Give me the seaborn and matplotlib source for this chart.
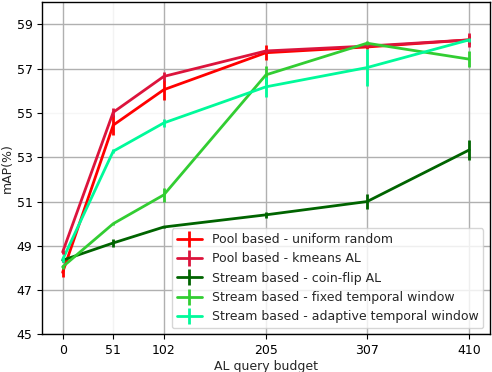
import matplotlib
matplotlib.use("Agg")
from matplotlib import pyplot as plt
from matplotlib.lines import Line2D
import numpy as np
import pandas as pd
import seaborn as sns

budget = [0, 51, 102, 205, 307, 410]

methods = [
    "Pool based - uniform random",
    "Pool based - kmeans AL",
    "Stream based - coin-flip AL",
    "Stream based - fixed temporal window",
    "Stream based - adaptive temporal window",
]
colors = ["#ff0000", "#dc143c", "#006400", "#32cd32", "#00fa9a"]

uniform_map = [47.8, 54.45, 56.05, 57.72, 57.98, 58.3]
kmeans_map = [48.72, 55.03, 56.65, 57.8, 58.02, 58.3]
coinflip_map = [48.35, 49.13, 49.85, 50.4, 51.0, 53.33]
fixed_map = [48.05, 50.0, 51.3, 56.72, 58.15, 57.43]
adaptive_map = [48.38, 53.27, 54.55, 56.18, 57.05, 58.3]

uniform_err = [0.2, 0.45, 0.45, 0.35, 0.1, 0.2]
kmeans_err = [0.1, 0.2, 0.2, 0.1, 0.1, 0.3]
coinflip_err = [0.1, 0.2, 0.05, 0.15, 0.35, 0.45]
fixed_err = [0.1, 0.05, 0.3, 0.4, 0.1, 0.35]
adaptive_err = [0.1, 0.1, 0.2, 0.45, 0.85, 0.1]

all_means = [uniform_map, kmeans_map, coinflip_map, fixed_map, adaptive_map]
all_errs = [uniform_err, kmeans_err, coinflip_err, fixed_err, adaptive_err]

# long table for seaborn
rows = []
for name, vals in zip(methods, all_means):
    for b, v in zip(budget, vals):
        rows.append({"budget": b, "mAP": v, "method": name})
df = pd.DataFrame(rows)

sns.set_style("white")
plt.rcParams["font.family"] = ["DejaVu Sans"]

fig = plt.figure(figsize=(4.92, 3.72), dpi=100)
ax = fig.add_axes([0.086, 0.101, 0.909, 0.893])

# grid (the 51 / 55 lines are barely visible in the original)
for x in budget:
    ax.axvline(x, color="#b0b0b0", lw=1, alpha=0.15 if x == 51 else 1, zorder=0)
for y in range(45, 61, 2):
    ax.axhline(y, color="#b0b0b0", lw=1, alpha=0.1 if y == 55 else 1, zorder=0)

sns.lineplot(data=df, x="budget", y="mAP", hue="method", hue_order=methods,
             palette=colors, linewidth=2, legend=False, ax=ax, zorder=3)

for vals, errs, c in zip(all_means, all_errs, colors):
    ax.errorbar(budget, vals, yerr=errs, fmt="none", ecolor=c, elinewidth=2, zorder=3)

ax.set_xlim(-20.5, 430.5)
ax.set_ylim(45, 60)
ax.set_xticks(budget)
ax.set_yticks(range(45, 60, 2))
ax.tick_params(axis="both", labelsize=9, direction="out", length=3.5, width=0.8,
               left=True, bottom=True, colors="black")
ax.set_xlabel("AL query budget", fontsize=9, labelpad=2)
ax.set_ylabel("mAP(%)", fontsize=9, labelpad=2)
for s in ax.spines.values():
    s.set_color("black")
    s.set_linewidth(1)

handles = [Line2D([0], [0], color=c, lw=2, marker="|", markersize=12, markeredgewidth=2)
           for c in colors]
ax.legend(handles, methods, loc="lower right", fontsize=9, frameon=True,
          framealpha=0.8, edgecolor="#cccccc", handlelength=2, borderaxespad=0.5)

fig.savefig("out.png", dpi=100)
